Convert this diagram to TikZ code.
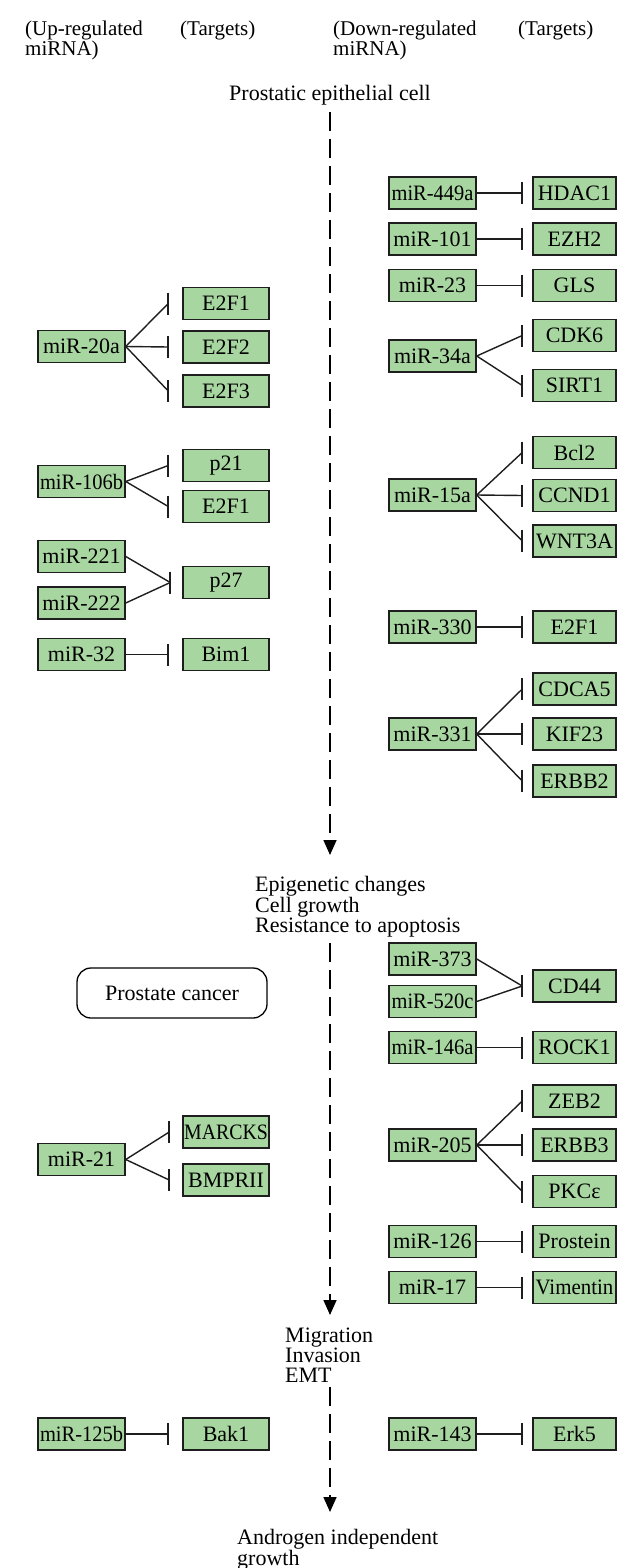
\documentclass[tikz,border=0pt]{standalone}
\usepackage{fontspec}
\setmainfont{Liberation Serif}
\usepackage{graphicx}
\usetikzlibrary{arrows.meta}
\definecolor{boxgreen}{RGB}{168,214,160}
\definecolor{edgecol}{RGB}{30,30,30}
\newcommand\narrowtxt[2][0.93]{\scalebox{#1}[1]{#2}}
\newcommand\inhibit[3]{%
  \draw[link] (#1.east) -- ([xshift=-#3pt]#2.west);
  \draw[barline] ([xshift=-#3pt,yshift=11pt]#2.west) -- ([xshift=-#3pt,yshift=-11pt]#2.west);}
\begin{document}
\begin{tikzpicture}[x=1pt,y=-1pt,
  every node/.style={font=\fontsize{22}{20}\selectfont, text=black},
  gene/.style={draw=edgecol, line width=1.5pt, fill=boxgreen, minimum height=32pt, inner sep=0pt},
  lmir/.style={gene, minimum width=87pt},
  ltgt/.style={gene, minimum width=86pt},
  rmir/.style={gene, minimum width=87pt},
  rtgt/.style={gene, minimum width=83pt},
  link/.style={draw=edgecol, line width=1.4pt},
  barline/.style={draw=edgecol, line width=1.8pt},
  flow/.style={draw=black, line width=1.6pt, dash pattern=on 19pt off 8pt, -{Triangle[width=13pt,length=15pt]}},
  label/.style={inner sep=0pt, align=left, anchor=north west, font=\fontsize{22}{20}\selectfont},
  hdr/.style={inner sep=0pt, align=left, anchor=north west, font=\fontsize{21}{15}\selectfont}
]
\fill[white] (0,0) rectangle (618,1568);
\useasboundingbox (0,0) rectangle (618,1568);

% headers
\node[hdr] (h1) at (25,21) {(Up-regulated\\miRNA)};
\node[hdr] (h2) at (180,21) {(Targets)};
\node[hdr] (h3) at (333,21) {(Down-regulated\\miRNA)};
\node[hdr] (h4) at (518,21) {(Targets)};

% stage labels
\node[inner sep=0pt] (start) at (330,95) {Prostatic epithelial cell};
\node[label] (epi) at (255,876) {Epigenetic changes\\Cell growth\\Resistance to apoptosis};
\node[label] (mig) at (285,1328) {Migration\\Invasion\\EMT};
\node[label] (andro) at (237,1529) {Androgen independent\\growth};

\coordinate (f1s) at (330,112);
\coordinate (f1e) at (330,855);
\coordinate (f2s) at (330,943);
\coordinate (f2e) at (330,1315);
\coordinate (f3s) at (330,1387);
\coordinate (f3e) at (330,1512);
\draw[flow] (f1s) -- (f1e);
\draw[flow] (f2s) -- (f2e);
\draw[flow] (f3s) -- (f3e);

\node[draw=black, line width=1.3pt, rounded corners=14pt, minimum width=190pt, minimum height=50pt, inner sep=0pt] (pc) at (172,993) {Prostate cancer};

% left column
\node[lmir] (m20a) at (81.5,346.5) {miR-20a};
\node[ltgt] (e2f1a) at (226,303.5) {E2F1};
\node[ltgt] (e2f2) at (226,347) {E2F2};
\node[ltgt] (e2f3) at (226,391) {E2F3};
\node[lmir] (m106b) at (81.5,481.5) {\narrowtxt{miR-106b}};
\node[ltgt] (p21) at (226,465.5) {p21};
\node[ltgt] (e2f1b) at (226,506.5) {E2F1};
\node[lmir] (m221) at (81.5,556.5) {miR-221};
\node[lmir] (m222) at (81.5,603) {miR-222};
\node[ltgt] (p27) at (226,582.5) {p27};
\node[lmir] (m32) at (81.5,654.5) {miR-32};
\node[ltgt] (bim1) at (226,654.5) {Bim1};
\node[lmir] (m21) at (81.5,1159.5) {miR-21};
\node[ltgt] (marcks) at (226,1132) {\narrowtxt[0.9]{MARCKS}};
\node[ltgt] (bmprii) at (226,1180) {BMPRII};
\node[lmir] (m125b) at (81.5,1434) {\narrowtxt{miR-125b}};
\node[ltgt] (bak1) at (226,1434) {Bak1};

\inhibit{m20a}{e2f1a}{14}
\inhibit{m20a}{e2f2}{14}
\inhibit{m20a}{e2f3}{14}
\inhibit{m106b}{p21}{14}
\inhibit{m106b}{e2f1b}{14}
\inhibit{m221}{p27}{12}
\inhibit{m222}{p27}{12}
\inhibit{m32}{bim1}{14}
\inhibit{m21}{marcks}{13}
\inhibit{m21}{bmprii}{13}
\inhibit{m125b}{bak1}{14}

% right column
\node[rmir] (m449a) at (432.5,193) {\narrowtxt{miR-449a}};
\node[rtgt] (hdac1) at (574.5,193) {HDAC1};
\node[rmir] (m101) at (432.5,239) {miR-101};
\node[rtgt] (ezh2) at (574.5,239) {EZH2};
\node[rmir] (m23) at (432.5,285.5) {miR-23};
\node[rtgt] (gls) at (574.5,285.5) {GLS};
\node[rmir] (m34a) at (432.5,356) {miR-34a};
\node[rtgt] (cdk6) at (574.5,335.5) {CDK6};
\node[rtgt] (sirt1) at (574.5,385.5) {SIRT1};
\node[rmir] (m15a) at (432.5,495) {miR-15a};
\node[rtgt] (bcl2) at (574.5,452.5) {Bcl2};
\node[rtgt] (ccnd1) at (574.5,495.5) {CCND1};
\node[rtgt] (wnt3a) at (574.5,541) {WNT3A};
\node[rmir] (m330) at (432.5,627) {miR-330};
\node[rtgt] (e2f1c) at (574.5,627) {E2F1};
\node[rmir] (m331) at (432.5,734) {miR-331};
\node[rtgt] (cdca5) at (574.5,689) {CDCA5};
\node[rtgt] (kif23) at (574.5,734) {KIF23};
\node[rtgt] (erbb2) at (574.5,781) {ERBB2};
\node[rmir] (m373) at (432.5,959) {miR-373};
\node[rmir] (m520c) at (432.5,1001.5) {\narrowtxt{miR-520c}};
\node[rtgt] (cd44) at (574.5,986) {CD44};
\node[rmir] (m146a) at (432.5,1047.5) {\narrowtxt{miR-146a}};
\node[rtgt] (rock1) at (574.5,1047.5) {ROCK1};
\node[rmir] (m205) at (432.5,1145) {miR-205};
\node[rtgt] (zeb2) at (574.5,1101) {ZEB2};
\node[rtgt] (erbb3) at (574.5,1145) {ERBB3};
\node[rtgt] (pkce) at (574.5,1191.5) {PKCε};
\node[rmir] (m126) at (432.5,1241.5) {miR-126};
\node[rtgt] (prostein) at (574.5,1241.5) {Prostein};
\node[rmir] (m17) at (432.5,1287.5) {miR-17};
\node[rtgt] (vimentin) at (574.5,1287.5) {\narrowtxt[0.95]{Vimentin}};
\node[rmir] (m143) at (432.5,1434) {miR-143};
\node[rtgt] (erk5) at (574.5,1434) {Erk5};

\inhibit{m449a}{hdac1}{10}
\inhibit{m101}{ezh2}{10}
\inhibit{m23}{gls}{10}
\inhibit{m34a}{cdk6}{10}
\inhibit{m34a}{sirt1}{10}
\inhibit{m15a}{bcl2}{10}
\inhibit{m15a}{ccnd1}{10}
\inhibit{m15a}{wnt3a}{10}
\inhibit{m330}{e2f1c}{10}
\inhibit{m331}{cdca5}{10}
\inhibit{m331}{kif23}{10}
\inhibit{m331}{erbb2}{10}
\inhibit{m373}{cd44}{10}
\inhibit{m520c}{cd44}{10}
\inhibit{m146a}{rock1}{10}
\inhibit{m205}{zeb2}{10}
\inhibit{m205}{erbb3}{10}
\inhibit{m205}{pkce}{10}
\inhibit{m126}{prostein}{10}
\inhibit{m17}{vimentin}{10}
\inhibit{m143}{erk5}{10}
\end{tikzpicture}
\end{document}
